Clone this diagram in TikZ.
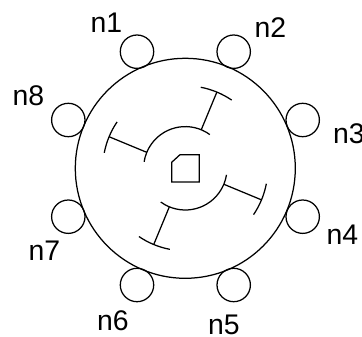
\documentclass[tikz,border=0pt]{standalone}
\usepackage{fontspec}
\setmainfont{Liberation Sans}
\tikzset{
  pin/.style={circle,draw,line width=1.25bp,minimum size=33.4bp,inner sep=0pt},
  tag/.style={inner sep=0pt,font=\fontsize{28.5}{28.5}\selectfont},
  wire/.style={line width=1.25bp}
}
\begin{document}
\begin{tikzpicture}[x=1bp,y=1bp]
  \useasboundingbox (0,0) rectangle (362,337);

  % Rotor
  \coordinate (o) at (185.3,168.7);
  \draw[wire] (o) circle (110);

  % Pins
  \node[pin] (p1) at (137,285.3) {};
  \node[pin] (p2) at (233.7,285.3) {};
  \node[pin] (p3) at (302.7,217) {};
  \node[pin] (p4) at (302.7,120.3) {};
  \node[pin] (p5) at (233.7,52) {};
  \node[pin] (p6) at (137,52) {};
  \node[pin] (p7) at (68.3,120.3) {};
  \node[pin] (p8) at (68.3,217) {};

  \node[tag] (n1) at (106.5,314) {n1};
  \node[tag] (n2) at (270.5,309.5) {n2};
  \node[tag] (n3) at (349,203) {n3};
  \node[tag] (n4) at (342.5,102) {n4};
  \node[tag] (n5) at (224,12) {n5};
  \node[tag] (n6) at (113,16) {n6};
  \node[tag] (n7) at (44.5,86) {n7};
  \node[tag] (n8) at (28.5,241.5) {n8};

  % Hub
  \draw[wire] ([shift={(54:41.7)}]o) arc (54:171:41.7);
  \draw[wire] ([shift={(234:41.7)}]o) arc (234:351:41.7);

  % Arms
  \foreach \ang in {67.5,157.5,247.5,337.5} {
    \draw[wire] ([shift={(\ang:41.7)}]o) -- ([shift={(\ang:82.5)}]o);
    \draw[wire] ([shift={(\ang-11.7:82.5)}]o) arc (\ang-11.7:\ang+11.7:82.5);
  }

  % Shaft key
  \draw[wire,line join=miter] (171.7,155) -- (199.3,155) -- (199.3,182.3) -- (180,182.3) -- (171.7,174.7) -- cycle;
\end{tikzpicture}
\end{document}
